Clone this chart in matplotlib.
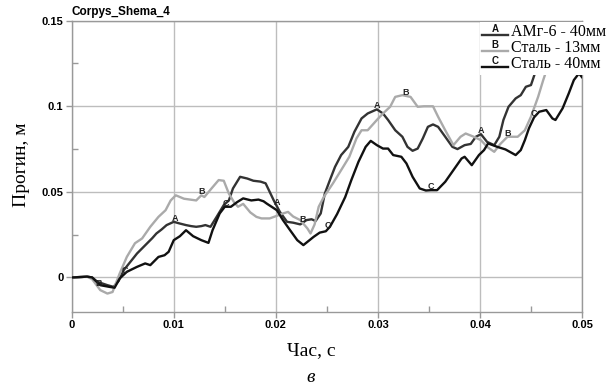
import numpy as np
import matplotlib
matplotlib.use("Agg")
import matplotlib.pyplot as plt
from matplotlib.lines import Line2D
from matplotlib.text import Text
from matplotlib.legend_handler import HandlerBase

# ---------------- data ----------------
t_A = [0, 0.0010, 0.0015, 0.0020, 0.0025, 0.0030, 0.0035, 0.0041, 0.0046, 0.0051, 0.0058,
       0.0064, 0.0069, 0.0074, 0.0079, 0.0083, 0.0088, 0.0093, 0.0100, 0.0106, 0.0112, 0.0117,
       0.0122, 0.0127, 0.0131, 0.0136, 0.0142, 0.0149, 0.0154, 0.0158, 0.0165, 0.0172, 0.0178,
       0.0185, 0.0190, 0.0198, 0.0204, 0.0211, 0.0217, 0.0224, 0.0230, 0.0235, 0.0239, 0.0244,
       0.0248, 0.0253, 0.0258, 0.0264, 0.0271, 0.0277, 0.0284, 0.0290, 0.0299, 0.0305, 0.0310,
       0.0317, 0.0324, 0.0329, 0.0334, 0.0339, 0.0344, 0.0349, 0.0354, 0.0359, 0.0366, 0.0373,
       0.0378, 0.0385, 0.0391, 0.0396, 0.0401, 0.0407, 0.0414, 0.0419, 0.0423, 0.0428, 0.0435,
       0.0440, 0.0445, 0.0450, 0.0455, 0.0460, 0.0466]
v_A = [0, 0.0003, 0.0005, 0, -0.0025, -0.0035, -0.0045, -0.0055, -0.0020, 0.0043, 0.0095,
       0.0140, 0.0170, 0.0200, 0.0230, 0.0257, 0.0280, 0.0306, 0.0325, 0.0315, 0.0306, 0.0300,
       0.0296, 0.0300, 0.0306, 0.0296, 0.0354, 0.0423, 0.0450, 0.0520, 0.0588, 0.0578, 0.0565,
       0.0560, 0.0550, 0.0450, 0.0383, 0.0325, 0.0320, 0.0310, 0.0335, 0.0340, 0.0330, 0.0374,
       0.0490, 0.0569, 0.0646, 0.0715, 0.0763, 0.0851, 0.0929, 0.0958, 0.0982, 0.0958, 0.0920,
       0.0860, 0.0822, 0.0763, 0.0740, 0.0753, 0.0812, 0.0880, 0.0894, 0.0880, 0.0822, 0.0763,
       0.0750, 0.0773, 0.0780, 0.0822, 0.0837, 0.0792, 0.0773, 0.0822, 0.0920, 0.0997, 0.1046,
       0.1065, 0.1114, 0.1124, 0.1212, 0.1280, 0.1350]

t_B = [0, 0.0010, 0.0015, 0.0020, 0.0028, 0.0035, 0.0040, 0.0047, 0.0054, 0.0062, 0.0069,
       0.0077, 0.0085, 0.0092, 0.0097, 0.0102, 0.0110, 0.0116, 0.0122, 0.0127, 0.0130, 0.0137,
       0.0144, 0.0149, 0.0154, 0.0159, 0.0163, 0.0168, 0.0175, 0.0181, 0.0186, 0.0194, 0.0201,
       0.0207, 0.0212, 0.0217, 0.0224, 0.0231, 0.0234, 0.0238, 0.0242, 0.0247, 0.0256, 0.0264,
       0.0272, 0.0279, 0.0284, 0.0290, 0.0299, 0.0305, 0.0312, 0.0317, 0.0324, 0.0332, 0.0339,
       0.0345, 0.0354, 0.0359, 0.0366, 0.0374, 0.0381, 0.0386, 0.0394, 0.0401, 0.0407, 0.0414,
       0.0420, 0.0427, 0.0437, 0.0444, 0.0450, 0.0457, 0.0462, 0.0468, 0.0474]
v_B = [0, 0.0003, 0.0005, -0.0010, -0.0074, -0.0094, -0.0085, 0.0023, 0.0120, 0.0200, 0.0228,
       0.0296, 0.0354, 0.0393, 0.0450, 0.0480, 0.0460, 0.0455, 0.0450, 0.0480, 0.0470, 0.0520,
       0.0569, 0.0565, 0.0490, 0.0440, 0.0413, 0.0430, 0.0380, 0.0354, 0.0345, 0.0345, 0.0360,
       0.0374, 0.0383, 0.0356, 0.0335, 0.0286, 0.0257, 0.0310, 0.0413, 0.0470, 0.0550, 0.0627,
       0.0705, 0.0812, 0.0860, 0.0860, 0.0920, 0.0958, 0.0997, 0.1055, 0.1065, 0.1055, 0.0997,
       0.1000, 0.1000, 0.0939, 0.0860, 0.0773, 0.0822, 0.0841, 0.0822, 0.0802, 0.0763, 0.0734,
       0.0780, 0.0822, 0.0822, 0.0860, 0.0939, 0.1055, 0.1153, 0.1260, 0.1350]

t_C = [0, 0.0010, 0.0015, 0.0020, 0.0028, 0.0037, 0.0042, 0.0047, 0.0054, 0.0064, 0.0072,
       0.0077, 0.0085, 0.0091, 0.0095, 0.0100, 0.0106, 0.0112, 0.0119, 0.0127, 0.0134, 0.0138,
       0.0145, 0.0150, 0.0156, 0.0162, 0.0168, 0.0176, 0.0183, 0.0188, 0.0191, 0.0201, 0.0207,
       0.0214, 0.0221, 0.0227, 0.0237, 0.0243, 0.0249, 0.0253, 0.0260, 0.0268, 0.0274, 0.0281,
       0.0288, 0.0293, 0.0299, 0.0305, 0.0310, 0.0315, 0.0323, 0.0328, 0.0334, 0.0341, 0.0347,
       0.0352, 0.0358, 0.0366, 0.0374, 0.0382, 0.0385, 0.0392, 0.0399, 0.0404, 0.0408, 0.0417,
       0.0425, 0.0435, 0.0440, 0.0444, 0.0448, 0.0453, 0.0458, 0.0465, 0.0471, 0.0474, 0.0481,
       0.0487, 0.0492, 0.0497, 0.0500]
v_C = [0, 0.0003, 0.0005, 0, -0.0045, -0.0055, -0.0060, -0.0006, 0.0033, 0.0062, 0.0082,
       0.0072, 0.0120, 0.0130, 0.0150, 0.0218, 0.0241, 0.0276, 0.0241, 0.0218, 0.0202, 0.0276,
       0.0374, 0.0413, 0.0413, 0.0440, 0.0462, 0.0450, 0.0455, 0.0445, 0.0432, 0.0393, 0.0335,
       0.0276, 0.0218, 0.0189, 0.0237, 0.0262, 0.0270, 0.0296, 0.0370, 0.0470, 0.0569, 0.0676,
       0.0763, 0.0798, 0.0773, 0.0753, 0.0753, 0.0715, 0.0705, 0.0666, 0.0588, 0.0520, 0.0508,
       0.0510, 0.0510, 0.0559, 0.0627, 0.0695, 0.0705, 0.0656, 0.0715, 0.0744, 0.0783, 0.0763,
       0.0748, 0.0715, 0.0744, 0.0802, 0.0871, 0.0935, 0.0968, 0.0978, 0.0929, 0.0920, 0.0988,
       0.1075, 0.1153, 0.1192, 0.1170]

labels_A_t = [0.0101, 0.0201, 0.0299, 0.0401]
labels_B_t = [0.0026, 0.0127, 0.0226, 0.0327, 0.0427]
labels_C_t = [0.0052, 0.0151, 0.0251, 0.0352, 0.0453]

series_names = ["АМг-6 - 40мм", "Сталь - 13мм", "Сталь - 40мм"]
series_letters = ["A", "B", "C"]

xticks = [0, 0.01, 0.02, 0.03, 0.04, 0.05]
xtick_labels = ["0", "0.01", "0.02", "0.03", "0.04", "0.05"]
yticks = [0, 0.05, 0.1, 0.15]
ytick_labels = ["0", "0.05", "0.1", "0.15"]

title = "Corpys_Shema_4"
xlabel = "Час, с"
ylabel = "Прогин, м"
sublabel = "в"

# ---------------- style ----------------
colors = ["#333333", "#aaaaaa", "#111111"]
SANS = "Liberation Sans"
SERIF = "Liberation Serif"
W, H = 610, 386

fig = plt.figure(figsize=(6.1, 3.86), dpi=100)
ax = fig.add_axes([71.7 / W, 1 - 311.7 / H, (582 - 71.7) / W, (311.7 - 20.7) / H])

series = [(t_A, v_A, labels_A_t), (t_B, v_B, labels_B_t), (t_C, v_C, labels_C_t)]
for (tt, vv, lt), c, letter in zip(series, colors, series_letters):
    ax.plot(tt, vv, color=c, lw=1.7, zorder=3, solid_joinstyle="round")
    for tl in lt:
        yl = np.interp(tl, tt, vv)
        ax.annotate(letter, (tl, yl), xytext=(0, 2.5), textcoords="offset points",
                    ha="center", va="center", fontsize=6.5, fontweight="bold",
                    family=SANS, color="#222222", zorder=4)

ax.set_xlim(0, 0.05)
ax.set_ylim(-0.02, 0.15)
ax.set_xticks(xticks)
ax.set_xticklabels(xtick_labels)
ax.set_yticks(yticks)
ax.set_yticklabels(ytick_labels)
ax.set_xticks(np.arange(0.005, 0.05, 0.01), minor=True)
ax.set_yticks([0.025, 0.075, 0.125], minor=True)
ax.tick_params(which="major", direction="out", length=4, width=1, color="#999999",
               labelsize=8, pad=2)
ax.tick_params(which="minor", direction="in", length=4, width=1, color="#999999")
for lab in ax.get_xticklabels() + ax.get_yticklabels():
    lab.set_fontfamily(SANS)
    lab.set_fontweight("bold")
ax.grid(True, which="major", color="#bdbdbd", lw=1.0, zorder=0)
ax.set_axisbelow(True)
for s in ax.spines.values():
    s.set_color("#999999")
    s.set_linewidth(1.0)

fig.text(71.7 / W, 1 - 12 / H, title, fontsize=8.5, fontweight="bold", family=SANS,
         ha="left", va="center")
fig.text(311 / W, 1 - 351 / H, xlabel, fontsize=14, family=SERIF, ha="center", va="center")
fig.text(22 / W, 1 - 165 / H, ylabel, fontsize=14, family=SERIF, ha="center", va="center",
         rotation=90)
fig.text(311 / W, 1 - 378 / H, sublabel, fontsize=14, family=SERIF, style="italic",
         ha="center", va="center")


class LetterHandler(HandlerBase):
    def __init__(self, letter, color):
        super().__init__()
        self.letter = letter
        self.color = color

    def create_artists(self, legend, orig_handle, xdescent, ydescent, width, height,
                       fontsize, trans):
        y0 = -ydescent + 0.12 * height
        line = Line2D([-xdescent, -xdescent + width], [y0, y0], color=self.color, lw=1.7,
                      transform=trans)
        txt = Text(-xdescent + width / 2, y0 + 0.5, self.letter, ha="center", va="bottom",
                   fontsize=7, fontweight="bold", family=SANS, color="#111111",
                   transform=trans)
        return [line, txt]


handles = [Line2D([], [], color=c) for c in colors]
hmap = {h: LetterHandler(l, c) for h, l, c in zip(handles, series_letters, colors)}
leg = fig.legend(handles, series_names, handler_map=hmap, loc="upper left",
                 bbox_to_anchor=(480 / W, 1 - 22 / H), frameon=True, fancybox=False,
                 facecolor="white", edgecolor="none", framealpha=1,
                 prop={"family": SERIF, "size": 11.5}, handlelength=1.6, handletextpad=0.2,
                 labelspacing=0.0, borderpad=0.15, borderaxespad=0)
leg.set_zorder(10)

fig.savefig("out.png", dpi=100)
